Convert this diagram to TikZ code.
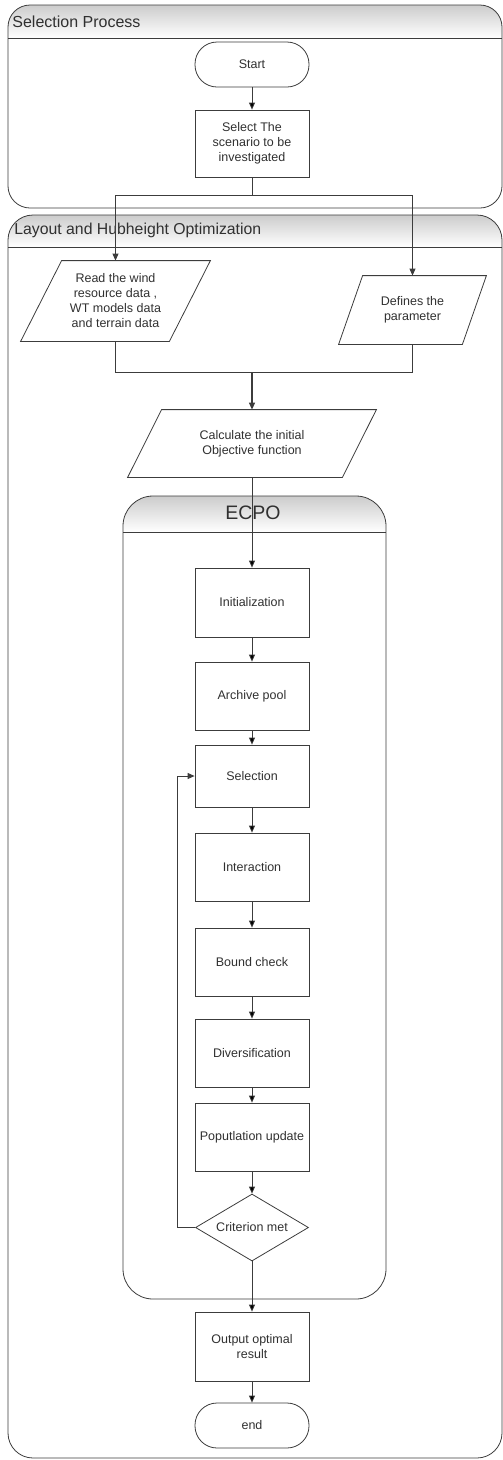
\documentclass[tikz,border=0pt]{standalone}
\usepackage{fontspec}
\setmainfont{Liberation Sans}
\usepackage{tikz}
\usetikzlibrary{arrows.meta,shapes.geometric}

\definecolor{linegray}{HTML}{3C3C3C}
\definecolor{txtgray}{HTML}{303030}
\newcommand{\boxfont}{\fontsize{12.5}{15}\selectfont}

\tikzset{
  stepbox/.style={draw=linegray, rectangle, minimum width=114pt, minimum height=68pt,
    align=center, font=\boxfont, text=txtgray, inner sep=2pt},
  termbox/.style={draw=linegray, rectangle, rounded corners=22pt, minimum width=114pt,
    minimum height=45pt, font=\boxfont, text=txtgray},
  databox/.style={rectangle, align=center, font=\boxfont, text=txtgray, inner sep=0pt},
  testbox/.style={draw=linegray, diamond, aspect=1.7, minimum width=113pt, minimum height=67pt,
    inner sep=0pt, font=\boxfont, text=txtgray},
  lanetitle/.style={anchor=west, inner sep=0pt, font=\fontsize{16}{18}\selectfont, text=txtgray},
  lane/.style={draw=linegray, rounded corners=#1},
  flow/.style={draw=linegray, -{Triangle[length=7pt,width=6pt]}}
}

\begin{document}
\begin{tikzpicture}[x=1pt,y=-1pt,line width=0.8pt]
\useasboundingbox (0,0) rectangle (503,1460);

% swimlanes
\begin{scope}
  \clip[rounded corners=22] (8,5) rectangle (502,208);
  \shade[top color=gray!40,bottom color=white] (8,5) rectangle (502,38);
\end{scope}
\draw[lane=22] (8,5) rectangle (502,208);
\draw[linegray] (8,38) -- (502,38);
\draw (12,22) node[lanetitle] (sellane) {Selection Process};

\begin{scope}
  \clip[rounded corners=25] (8,215) rectangle (502,1458);
  \shade[top color=gray!40,bottom color=white] (8,215) rectangle (502,247);
\end{scope}
\draw[lane=25] (8,215) rectangle (502,1458);
\draw[linegray] (8,247) -- (502,247);
\draw (14,230) node[lanetitle, font=\fontsize{15.8}{18}\selectfont] (optlane) {Layout and Hubheight Optimization};

\begin{scope}
  \clip[rounded corners=30] (123,496) rectangle (386,1299);
  \shade[top color=gray!40,bottom color=white] (123,496) rectangle (386,532);
\end{scope}
\draw[lane=30] (123,496) rectangle (386,1299);
\draw[linegray] (123,532) -- (386,532);
\draw (253,513) node[font=\fontsize{19.5}{22}\selectfont, text=txtgray] (ecpo) {ECPO};

% nodes
\draw (252,64.5) node[termbox] (start) {Start};
\draw (252,143.5) node[stepbox, minimum height=67pt] (scenario) {Select The\\scenario to be\\investigated};
\draw (115.5,301) node[databox, minimum width=148pt, minimum height=80pt] (read) {Read the wind\\resource data ,\\WT models data\\and terrain data};
\draw (412.5,310) node[databox, minimum width=123pt, minimum height=68pt] (param) {Defines the\\parameter};
\draw (252,443.5) node[databox, minimum width=214pt, minimum height=67pt] (calc) {Calculate the initial\\Objective function};

% slanted outlines of the data boxes
\foreach \n/\s in {read/20.5, param/12, calc/17}
  \draw[linegray] ([xshift=\s pt]\n.north west) -- ([xshift=\s pt]\n.north east)
     -- ([xshift=-\s pt]\n.south east) -- ([xshift=-\s pt]\n.south west) -- cycle;

\draw (252,602.5) node[stepbox, minimum height=69pt] (init) {Initialization};
\draw (252,696) node[stepbox] (archive) {Archive pool};
\draw (252,776) node[stepbox, minimum height=62pt] (select) {Selection};
\draw (252,867) node[stepbox] (interact) {Interaction};
\draw (252,962) node[stepbox] (bound) {Bound check};
\draw (252,1053) node[stepbox] (divers) {Diversification};
\draw (252,1137) node[stepbox] (update) {Poputlation update};
\draw (252,1227.5) node[testbox] (crit) {Criterion met};
\draw (252,1346.5) node[stepbox, minimum height=69pt] (output) {Output optimal\\result};
\draw (252,1425.5) node[termbox] (end) {end};

\coordinate (split) at (252,195);
\coordinate (merge) at (252,372);

% connectors
\path[flow] (start) edge (scenario);
\draw[linegray] (scenario.south) -- (split);
\draw[flow] (split) -| (read.north);
\draw[flow] (split) -| (param.north);
\draw[linegray] (read.south) |- (merge);
\draw[linegray] (param.south) |- (merge);
\draw[flow, line width=1.2pt] (merge) -- (calc.north);
\path[flow] (calc) edge (init);
\path[flow] (init) edge (archive);
\path[flow] (archive) edge (select);
\path[flow] (select) edge (interact);
\path[flow] (interact) edge (bound);
\path[flow] (bound) edge (divers);
\path[flow] (divers) edge (update);
\path[flow] (update) edge (crit);
\path[flow] (crit) edge (output);
\path[flow] (output) edge (end);
\draw[flow] (crit.west) -- ++(-18,0) |- (select.west);

\end{tikzpicture}
\end{document}
